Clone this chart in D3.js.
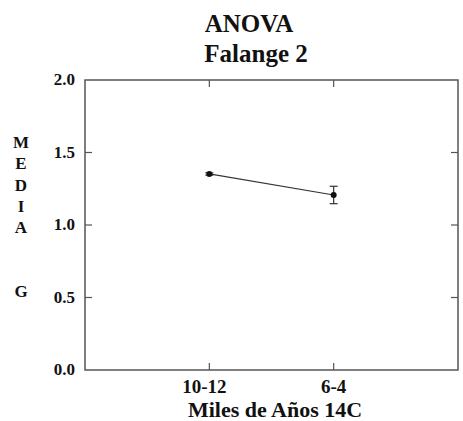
<!DOCTYPE html>
<html>
<head>
<meta charset="utf-8">
<script src="https://cdn.jsdelivr.net/npm/d3@7"></script>
<style>
  body { margin: 0; background: #fff; }
  text { font-family: "Liberation Serif", "Times New Roman", serif; font-weight: bold; fill: #111; }
</style>
</head>
<body>
<svg id="chart"></svg>
<script>
//chart data
const categories = ["10-12", "6-4"];
const means = [1.352, 1.207];
const errors = [0.008, 0.06];
const yTicks = [0.0, 0.5, 1.0, 1.5, 2.0];
const yLetters = ["M", "E", "D", "I", "A", "", "", "G"];

const width = 463, height = 421;
const margin = { top: 80, right: 5, bottom: 51, left: 85 };

const svg = d3.select("#chart")
    .attr("width", width)
    .attr("height", height);

//scales: categories sit at 1 and 2 of a 0..3 range
const x = d3.scaleLinear()
    .domain([0, categories.length + 1])
    .range([margin.left, width - margin.right]);

const y = d3.scaleLinear()
    .domain([0, 2])
    .range([height - margin.bottom, margin.top]);

//frame
svg.append("rect")
    .attr("x", x(0))
    .attr("y", y(2))
    .attr("width", x(3) - x(0))
    .attr("height", y(0) - y(2))
    .attr("fill", "none")
    .attr("stroke", "#555")
    .attr("stroke-width", 1.5);

//inward ticks on all four sides
const tickLen = 7;
const yInner = yTicks.filter(t => t > 0 && t < 2);
svg.selectAll(".ytick-l")
    .data(yInner)
    .join("line")
    .attr("x1", x(0)).attr("x2", x(0) + tickLen)
    .attr("y1", d => y(d)).attr("y2", d => y(d))
    .attr("stroke", "#555").attr("stroke-width", 1.2);
svg.selectAll(".ytick-r")
    .data(yInner)
    .join("line")
    .attr("x1", x(3)).attr("x2", x(3) - tickLen)
    .attr("y1", d => y(d)).attr("y2", d => y(d))
    .attr("stroke", "#555").attr("stroke-width", 1.2);
svg.selectAll(".xtick-b")
    .data(categories)
    .join("line")
    .attr("x1", (d, i) => x(i + 1)).attr("x2", (d, i) => x(i + 1))
    .attr("y1", y(0)).attr("y2", y(0) - tickLen)
    .attr("stroke", "#555").attr("stroke-width", 1.2);
svg.selectAll(".xtick-t")
    .data(categories)
    .join("line")
    .attr("x1", (d, i) => x(i + 1)).attr("x2", (d, i) => x(i + 1))
    .attr("y1", y(2)).attr("y2", y(2) + tickLen)
    .attr("stroke", "#555").attr("stroke-width", 1.2);

//tick labels
svg.selectAll(".ylab")
    .data(yTicks)
    .join("text")
    .attr("x", x(0) - 10)
    .attr("y", d => y(d) + 5)
    .attr("text-anchor", "end")
    .style("font-size", "17px")
    .text(d => d.toFixed(1));

svg.selectAll(".xlab")
    .data(categories)
    .join("text")
    .attr("x", (d, i) => x(i + 1) - (i === 0 ? 5 : 0))
    .attr("y", y(0) + 23)
    .attr("text-anchor", "middle")
    .style("font-size", "19px")
    .text(d => d);

//axis titles
svg.append("text")
    .attr("x", 275)
    .attr("y", 417)
    .attr("text-anchor", "middle")
    .style("font-size", "22px")
    .text("Miles de Años 14C");

svg.selectAll(".ylet")
    .data(yLetters)
    .join("text")
    .attr("x", 21)
    .attr("y", (d, i) => 148 + i * 21.3)
    .attr("text-anchor", "middle")
    .style("font-size", "17px")
    .text(d => d);

//title
svg.append("text")
    .attr("x", 249).attr("y", 32)
    .attr("text-anchor", "middle")
    .style("font-size", "25px")
    .text("ANOVA");
svg.append("text")
    .attr("x", 256).attr("y", 62)
    .attr("text-anchor", "middle")
    .style("font-size", "25px")
    .text("Falange 2");

//mean line
const pts = means.map((m, i) => [x(i + 1), y(m)]);
svg.append("path")
    .attr("d", d3.line()(pts))
    .attr("fill", "none")
    .attr("stroke", "#333")
    .attr("stroke-width", 1.2);

//error bars
const cap = 4;
means.forEach((m, i) => {
    const cx = x(i + 1);
    const g = svg.append("g").attr("stroke", "#333").attr("stroke-width", 1.2);
    g.append("line").attr("x1", cx).attr("x2", cx)
        .attr("y1", y(m + errors[i])).attr("y2", y(m - errors[i]));
    [m + errors[i], m - errors[i]].forEach(v => {
        g.append("line").attr("x1", cx - cap).attr("x2", cx + cap)
            .attr("y1", y(v)).attr("y2", y(v));
    });
});

//points
svg.selectAll(".pt")
    .data(means)
    .join("circle")
    .attr("cx", (d, i) => x(i + 1))
    .attr("cy", d => y(d))
    .attr("r", 3)
    .attr("fill", "#111");
</script>
</body>
</html>
